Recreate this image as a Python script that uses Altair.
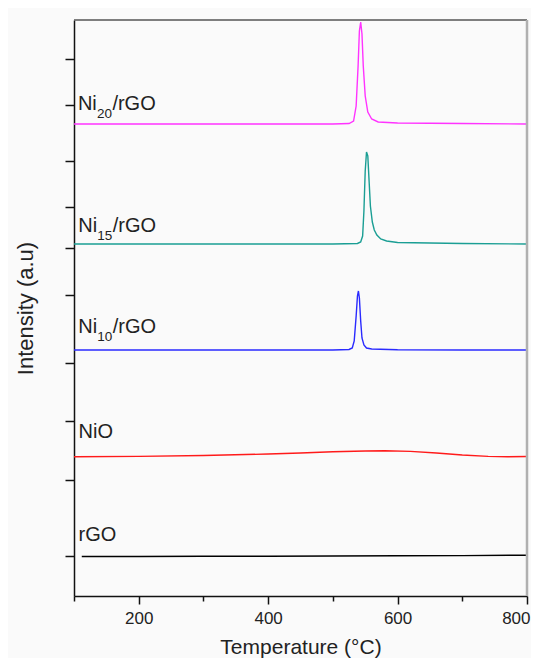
import altair as alt
import pandas as pd

FONT = "Liberation Sans"

series_names = ["rGO", "NiO", "Ni10/rGO", "Ni15/rGO", "Ni20/rGO"]
series_colors = ["#000000", "#ff1a1a", "#2a2aff", "#1a9e94", "#ff33ff"]

rgo_t = [112, 200, 300, 400, 500, 600, 700, 800]
rgo_i = [39.5, 39.5, 39.7, 39.8, 40.0, 40.2, 40.4, 40.8]

nio_t = [100, 200, 300, 400, 450, 500, 550, 580, 620, 660, 700, 740, 770, 800]
nio_i = [139.3, 139.6, 140.5, 142.0, 143.0, 144.2, 145.0, 145.2, 144.6, 143.0, 141.0, 139.6, 139.2, 139.5]

ni10_t = [100, 300, 500, 525, 530, 533, 536, 538, 539.5, 541, 543, 545, 548, 552, 560, 600, 700, 800]
ni10_i = [246, 246, 246, 246.5, 248, 255, 280, 300, 305, 298, 275, 258, 251, 248, 247, 246.3, 246, 246]

ni15_t = [100, 300, 500, 538, 543, 546, 548, 550, 552, 554, 556, 558, 561, 564, 568, 574, 583, 600, 700, 800]
ni15_i = [352, 352, 352, 352.5, 354, 360, 385, 425, 444, 440, 415, 390, 374, 366, 361, 357, 355, 353.5, 352.5, 352]

ni20_t = [100, 300, 500, 525, 532, 536, 539, 541, 543, 545, 547, 550, 554, 560, 570, 600, 700, 800]
ni20_i = [472, 472, 472, 472.5, 475, 490, 530, 565, 574, 562, 530, 500, 484, 477, 474, 473, 472.5, 472]

series_t = [rgo_t, nio_t, ni10_t, ni15_t, ni20_t]
series_i = [rgo_i, nio_i, ni10_i, ni15_i, ni20_i]

label_main = ["rGO", "NiO", "Ni", "Ni", "Ni"]
label_sub = ["", "", "10", "15", "20"]
label_suffix = ["", "", "/rGO", "/rGO", "/rGO"]
label_t = [107, 107, 106.5, 106.5, 106]
label_i = [55, 158, 263, 364, 486]

x_ticks = [100, 200, 300, 400, 500, 600, 700, 800]
y_ticks = [40, 116, 175, 233, 301, 348, 389, 435, 491, 537]

rows = []
for name, ts, vs in zip(series_names, series_t, series_i):
    for k, (t, v) in enumerate(zip(ts, vs)):
        rows.append({"series": name, "T": t, "I": v, "k": k})
df = pd.DataFrame(rows)

lab = pd.DataFrame({
    "series": series_names, "main": label_main, "sub": label_sub,
    "suffix": label_suffix, "T": label_t, "I": label_i,
})

W, H = 453, 576

xscale = alt.Scale(domain=[100, 800], nice=False, zero=False)
yscale = alt.Scale(domain=[0, 576], nice=False, zero=False)

xaxis = alt.Axis(
    values=x_ticks,
    labelExpr="datum.value % 200 === 0 && datum.value > 100 ? datum.value : ''",
    labelFlush=True, labelFlushOffset=3, labelOverlap=False,
    title="Temperature (°C)",
    grid=False,
    domainColor="#111", domainWidth=1.5,
    tickColor="#111", tickWidth=1.5,
    tickSize={"condition": {"test": "datum.value % 200 === 0", "value": 8}, "value": 5},
    labelFont=FONT, labelFontSize=17, labelColor="#222", labelPadding=6,
    titleFont=FONT, titleFontSize=21, titleColor="#222", titleFontWeight="normal",
    titlePadding=10,
)
yaxis = alt.Axis(
    values=y_ticks, labels=False, grid=False,
    title="Intensity (a.u)",
    domainColor="#111", domainWidth=1.5,
    tickColor="#111", tickWidth=1.5, tickSize=9,
    titleFont=FONT, titleFontSize=22, titleColor="#222", titleFontWeight="normal",
    titlePadding=27,
)

lines = alt.Chart(df).mark_line(strokeWidth=1.4).encode(
    x=alt.X("T:Q", scale=xscale, axis=xaxis),
    y=alt.Y("I:Q", scale=yscale, axis=yaxis),
    color=alt.Color("series:N", scale=alt.Scale(domain=series_names, range=series_colors), legend=None),
    order="k:Q",
)

base_lab = alt.Chart(lab)
txt_main = base_lab.mark_text(align="left", baseline="alphabetic", font=FONT, fontSize=20, color="#222").encode(
    x=alt.X("T:Q", scale=xscale), y=alt.Y("I:Q", scale=yscale), text="main:N")
txt_sub = base_lab.transform_filter("datum.sub != ''").mark_text(
    align="left", baseline="alphabetic", font=FONT, fontSize=13.5, color="#222", dx=19, dy=7.5).encode(
    x=alt.X("T:Q", scale=xscale), y=alt.Y("I:Q", scale=yscale), text="sub:N")
txt_suf = base_lab.transform_filter("datum.suffix != ''").mark_text(
    align="left", baseline="alphabetic", font=FONT, fontSize=20, color="#222", dx=34.5).encode(
    x=alt.X("T:Q", scale=xscale), y=alt.Y("I:Q", scale=yscale), text="suffix:N")

top_rule = alt.Chart(pd.DataFrame({"a": [0]})).mark_rule(color="#555", strokeWidth=1.5).encode(
    x=alt.value(0), x2=alt.value(W), y=alt.value(0))
right_rule = alt.Chart(pd.DataFrame({"a": [0]})).mark_rule(color="#b0b0b0", strokeWidth=2.5).encode(
    x=alt.value(W), y=alt.value(0), y2=alt.value(H))

chart = alt.layer(lines, txt_main, txt_sub, txt_suf, top_rule, right_rule).properties(
    width=W, height=H,
    autosize=alt.AutoSizeParams(type="none"),
    padding={"left": 66, "top": 12, "right": 4, "bottom": 62},
    background="#fafafa",
).configure_view(stroke=None)

chart.save("out.html", embed_options={"renderer": "svg", "actions": False})
